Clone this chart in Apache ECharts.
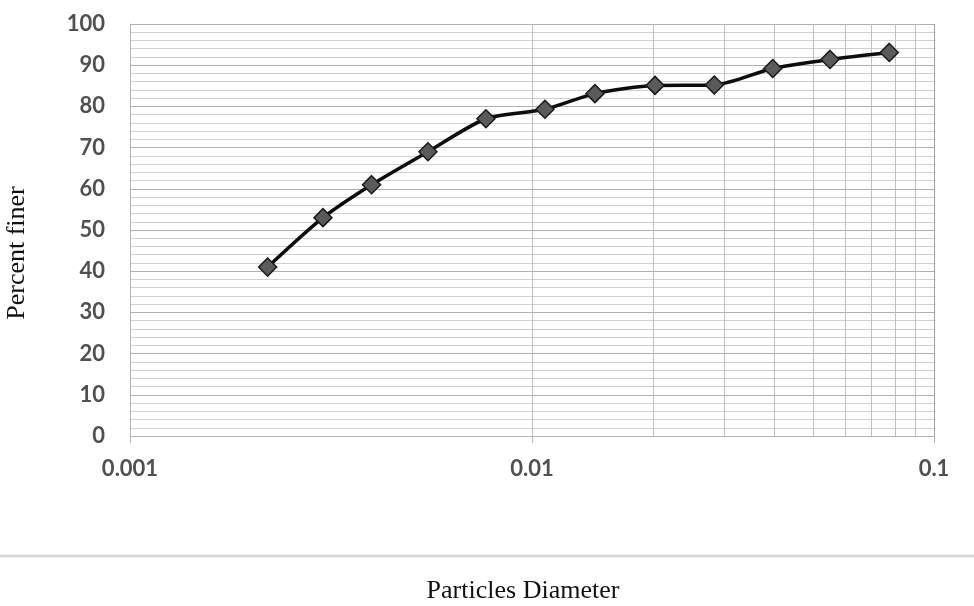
<!DOCTYPE html>
<html>
<head>
<meta charset="utf-8">
<script src="https://cdn.jsdelivr.net/npm/echarts@6/dist/echarts.min.js"></script>
<style>html,body{margin:0;padding:0;background:#fff}#c{width:974px;height:606px}</style>
</head>
<body>
<div id="c"></div>
<script>
// Data
const diameters = [0.0022, 0.00302, 0.00399, 0.00551, 0.00768, 0.01077, 0.01434, 0.02023, 0.02841, 0.03971, 0.05511, 0.07741];
const percentFiner = [41, 53, 61, 69, 77, 79.3, 83.1, 85.1, 85.2, 89.2, 91.4, 93.1];
const xTickLabels = ['0.001', '0.01', '0.1'];
const yTickLabels = ['0','10','20','30','40','50','60','70','80','90','100'];
const xTitle = 'Particles Diameter';
const yTitle = 'Percent finer';

// minor log grid positions (2..9 per decade)
const minorX = [];
[0.001, 0.01].forEach(d => { for (let k = 2; k <= 9; k++) minorX.push(+(k * d).toPrecision(3)); });

const chart = echarts.init(document.getElementById('c'), null, {renderer: 'canvas'});
chart.setOption({
  animation: false,
  backgroundColor: '#ffffff',
  grid: {left: 130, right: 40, top: 24, bottom: 170},
  xAxis: {
    type: 'log', logBase: 10, min: 0.001, max: 0.1,
    axisLine: {show: true, lineStyle: {color: '#b5b5b5', width: 1}},
    axisTick: {show: true, length: 7, inside: false, lineStyle: {color: '#b5b5b5'}},
    axisLabel: {
      margin: 22, color: '#505050', fontFamily: 'Lato', fontSize: 22, fontWeight: 'bold',
      formatter: v => {
        const e = Math.round(Math.log10(v));
        return xTickLabels[e + 3] || '';
      }
    },
    splitLine: {show: true, lineStyle: {color: '#a0a0a0', width: 1}}
  },
  yAxis: {
    type: 'value', min: 0, max: 100, interval: 10,
    axisLine: {show: true, lineStyle: {color: '#b5b5b5', width: 1}},
    axisTick: {show: false},
    axisLabel: {margin: 25, color: '#505050', fontFamily: 'Lato', fontSize: 22, fontWeight: 'bold',
      formatter: v => yTickLabels[Math.round(v / 10)] },
    splitLine: {show: true, lineStyle: {color: '#b0b0b0', width: 1}},
    minorTick: {show: false, splitNumber: 5},
    minorSplitLine: {show: true, lineStyle: {color: '#d0d0d0', width: 1}}
  },
  series: [
    {
      type: 'line', data: [], z: 1, silent: true,
      markLine: {
        silent: true, symbol: 'none', animation: false,
        label: {show: false},
        lineStyle: {color: '#c0c0c0', width: 1, type: 'solid'},
        emphasis: {disabled: true},
        data: minorX.map(v => ({xAxis: v}))
      }
    },
    {
      type: 'line', z: 5,
      data: diameters.map((d, i) => [d, percentFiner[i]]),
      smooth: 0.25,
      lineStyle: {color: '#0d0d0d', width: 3.5},
      symbol: 'diamond', symbolSize: 18,
      itemStyle: {color: '#5a5a5a', borderColor: '#1a1a1a', borderWidth: 1.5}
    }
  ],
  graphic: [
    {type: 'line', silent: true, shape: {x1: 0, y1: 556, x2: 974, y2: 556},
      style: {stroke: '#dadada', lineWidth: 3}},
    {type: 'text', silent: true, x: 523, y: 591,
      style: {text: xTitle, font: '26px "Liberation Serif", "Times New Roman", serif', fill: '#111', textAlign: 'center', textVerticalAlign: 'middle'}},
    {type: 'text', silent: true, x: 17, y: 253, rotation: Math.PI / 2,
      style: {text: yTitle, font: '26px "Liberation Serif", "Times New Roman", serif', fill: '#111', textAlign: 'center', textVerticalAlign: 'middle'}}
  ]
});
</script>
</body>
</html>
